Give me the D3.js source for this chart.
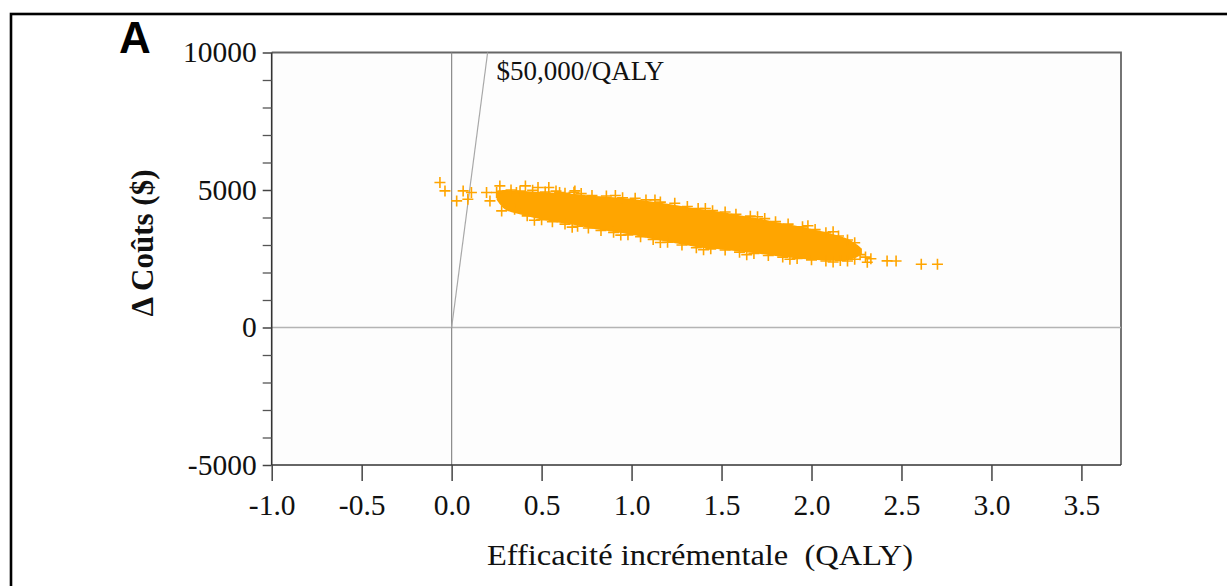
<!DOCTYPE html>
<html>
<head>
<meta charset="utf-8">
<script src="https://cdn.jsdelivr.net/npm/d3@7"></script>
<style>
  html, body { margin: 0; padding: 0; background: #ffffff; }
  svg { display: block; }
  text { font-family: "Liberation Serif", "Times New Roman", serif; fill: #111; }
</style>
</head>
<body>
<svg id="chart" width="1227" height="586"></svg>
<script>
// Axis ticks and labels
const xTicks = [-1.0, -0.5, 0.0, 0.5, 1.0, 1.5, 2.0, 2.5, 3.0, 3.5];
const xTickLabels = ["-1.0", "-0.5", "0.0", "0.5", "1.0", "1.5", "2.0", "2.5", "3.0", "3.5"];
const yTicks = [-5000, 0, 5000, 10000];
const yTickLabels = ["-5000", "0", "5000", "10000"];
const yMinorTicks = [-4000, -3000, -2000, -1000, 1000, 2000, 3000, 4000, 6000, 7000, 8000, 9000];

// Willingness-to-pay threshold ($ per QALY)
const wtp = 50000;

// Dense core of the bootstrap cloud: QALY with upper and lower Δcost
const bandQaly  = [0.25, 0.30, 0.40, 0.50, 0.60, 0.70, 0.80, 0.90, 1.00, 1.10, 1.20, 1.30, 1.40, 1.50, 1.60, 1.70, 1.80, 1.90, 2.00, 2.10, 2.20, 2.25, 2.28];
const bandUpper = [4980, 5000, 4960, 4930, 4890, 4850, 4780, 4740, 4680, 4590, 4500, 4390, 4290, 4200, 4080, 3970, 3840, 3720, 3580, 3430, 3230, 3030, 2870];
const bandLower = [4650, 4280, 4080, 3930, 3810, 3710, 3570, 3480, 3370, 3240, 3120, 3000, 2890, 2840, 2760, 2690, 2600, 2530, 2470, 2430, 2450, 2550, 2660];

// Individual simulations around the edges of the cloud and outliers
const simQaly = [
  -0.065, -0.037, 0.028, 0.064, 0.11, 0.09, 0.194, 0.213, 0.278, 0.268, 0.25, 0.41, 0.48, 0.54, 0.60, 0.685, 0.36,
  0.33, 0.38, 0.45, 0.52, 0.58, 0.63, 0.72, 0.78, 0.86, 0.95, 1.02, 1.08, 1.16, 1.24, 1.31, 1.37, 1.45, 1.52, 1.58, 1.66, 1.74, 1.80, 1.87, 1.95, 2.02, 2.08, 2.15, 2.20, 2.24,
  0.68, 0.91, 1.13, 1.41, 1.70, 1.98, 2.12,
  0.35, 0.42, 0.50, 0.56, 0.63, 0.70, 0.76, 0.83, 0.90, 0.98, 1.05, 1.12, 1.20, 1.28, 1.36, 1.44, 1.52, 1.60, 1.68, 1.76, 1.84, 1.92, 2.00, 2.08, 2.16, 2.24, 2.30,
  0.46, 0.67, 0.94, 1.16, 1.40, 1.64, 1.88, 2.12, 2.20,
  2.27, 2.33, 2.31, 2.42, 2.47, 2.61, 2.70
];
const simCost = [
  5272, 4968, 4604, 4968, 4909, 4665, 4909, 4604, 4240, 5149, 4909, 5149, 5090, 5090, 4909, 4968, 4909,
  5000, 4960, 4990, 4930, 4960, 4880, 4870, 4800, 4780, 4720, 4700, 4640, 4560, 4520, 4400, 4330, 4250, 4200, 4120, 4050, 3960, 3850, 3760, 3660, 3560, 3450, 3330, 3180, 3080,
  4920, 4800, 4640, 4330, 4030, 3700, 3480,
  4300, 4060, 3920, 3850, 3760, 3680, 3620, 3530, 3460, 3370, 3300, 3200, 3100, 3000, 2900, 2860, 2820, 2740, 2690, 2620, 2560, 2510, 2460, 2420, 2440, 2480, 2560,
  3900, 3650, 3360, 3090, 2830, 2650, 2480, 2380, 2420,
  2650, 2500, 2374, 2422, 2420, 2302, 2302
];

const orange = "#FFA500";
const svg = d3.select("#chart");

// Figure frame
svg.append("rect")
  .attr("x", 11).attr("y", 14).attr("width", 1400).attr("height", 800)
  .attr("fill", "none").attr("stroke", "#000").attr("stroke-width", 2.6);

const x = d3.scaleLinear().domain([-1, 3.72]).range([271.7, 1121]);
const y = d3.scaleLinear().domain([-5000, 10000]).range([465, 52.5]);

// Plot background and top/right frame
svg.append("rect")
  .attr("x", x(-1)).attr("y", y(10000))
  .attr("width", x(3.72) - x(-1)).attr("height", y(-5000) - y(10000))
  .attr("fill", "#fdfdfd");
svg.append("path")
  .attr("d", `M${x(-1)},${y(10000)}H${x(3.72)}V${y(-5000)}`)
  .attr("fill", "none").attr("stroke", "#666").attr("stroke-width", 1.8);

// Reference lines through the origin
svg.append("line")
  .attr("x1", x(-1)).attr("x2", x(3.72)).attr("y1", y(0)).attr("y2", y(0))
  .attr("stroke", "#b4b4b4").attr("stroke-width", 1.6);
svg.append("line")
  .attr("x1", x(0)).attr("x2", x(0)).attr("y1", y(10000)).attr("y2", y(-5000))
  .attr("stroke", "#8a8a8a").attr("stroke-width", 1.2);
svg.append("line")
  .attr("x1", x(0)).attr("y1", y(0))
  .attr("x2", x(10000 / wtp)).attr("y2", y(10000))
  .attr("stroke", "#a8a8a8").attr("stroke-width", 1.2);

svg.append("text")
  .attr("x", x(10000 / wtp) + 9).attr("y", 80)
  .attr("font-size", 27)
  .text("$50,000/QALY");

// Dense part of the cloud
const band = bandQaly.map((q, i) => ({ q, hi: bandUpper[i], lo: bandLower[i] }));
svg.append("path")
  .datum(band)
  .attr("d", d3.area().x(d => x(d.q)).y0(d => y(d.lo)).y1(d => y(d.hi)).curve(d3.curveCatmullRom))
  .attr("fill", orange);

// Individual simulations drawn as "+"
const sims = simQaly.map((q, i) => ({ q, c: simCost[i] }));
svg.append("g")
  .selectAll("path")
  .data(sims)
  .join("path")
  .attr("transform", d => `translate(${x(d.q)},${y(d.c)})`)
  .attr("d", "M-5.5,0H5.5M0,-5.5V5.5")
  .attr("stroke", orange).attr("stroke-width", 1.6).attr("fill", "none");

// X axis
const xAxis = svg.append("g")
  .attr("transform", `translate(0,${y(-5000)})`)
  .call(d3.axisBottom(x).tickValues(xTicks).tickSize(16).tickPadding(13)
    .tickFormat((d, i) => xTickLabels[i]));
xAxis.select(".domain").attr("stroke", "#333").attr("stroke-width", 1.6)
  .attr("d", `M${x(-1)},0H${x(3.72)}`);
xAxis.selectAll(".tick line").attr("stroke", "#444").attr("stroke-width", 1.5);
xAxis.selectAll(".tick text")
  .attr("font-family", "Liberation Serif, serif").attr("font-size", 29.5).attr("fill", "#111");

// Y axis with minor ticks
const yAxis = svg.append("g")
  .attr("transform", `translate(${x(-1)},0)`)
  .call(d3.axisLeft(y).tickValues(yTicks).tickSize(9).tickPadding(6)
    .tickFormat((d, i) => yTickLabels[i]));
yAxis.select(".domain").attr("stroke", "#333").attr("stroke-width", 1.6)
  .attr("d", `M0,${y(10000)}V${y(-5000)}`);
yAxis.selectAll(".tick line").attr("stroke", "#444").attr("stroke-width", 1.5);
yAxis.selectAll(".tick text")
  .attr("font-family", "Liberation Serif, serif").attr("font-size", 29.5).attr("fill", "#111");
svg.append("g")
  .attr("transform", `translate(${x(-1)},0)`)
  .call(d3.axisLeft(y).tickValues(yMinorTicks).tickSize(9).tickFormat(""))
  .call(g => g.select(".domain").remove())
  .selectAll(".tick line").attr("stroke", "#555").attr("stroke-width", 1.3);

// Axis titles
svg.append("text")
  .attr("x", 700).attr("y", 565)
  .attr("text-anchor", "middle")
  .attr("font-size", 30)
  .attr("textLength", 426)
  .attr("lengthAdjust", "spacingAndGlyphs")
  .style("white-space", "pre")
  .text("Efficacité incrémentale  (QALY)");

svg.append("text")
  .attr("transform", "translate(153,243) rotate(-90)")
  .attr("text-anchor", "middle")
  .attr("font-size", 31)
  .attr("font-weight", "bold")
  .text("Δ Coûts ($)");

// Panel letter
svg.append("text")
  .attr("x", 119).attr("y", 53)
  .style("font-family", "'Liberation Sans', Arial, sans-serif")
  .attr("font-size", 44)
  .attr("font-weight", "bold")
  .style("fill", "#000")
  .text("A");
</script>
</body>
</html>
